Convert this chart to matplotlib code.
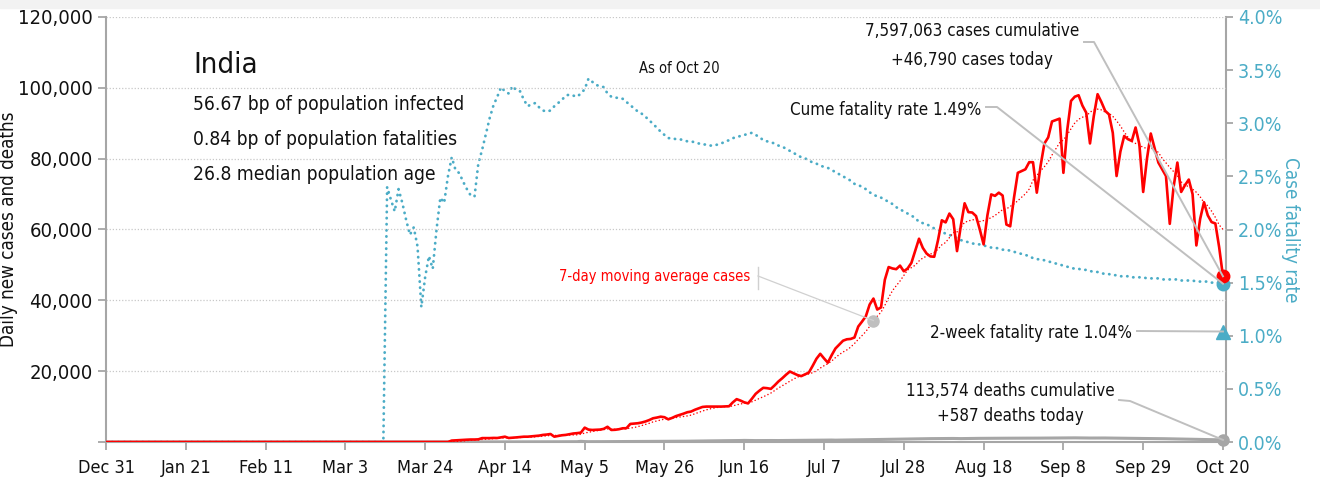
import matplotlib
matplotlib.use("Agg")
import matplotlib.pyplot as plt
import matplotlib.dates as mdates
from matplotlib import font_manager
from matplotlib.lines import Line2D
from matplotlib.patches import Rectangle
import pandas as pd

# ---- data (India, as of Oct 20) ----
start = pd.Timestamp("2019-12-31")
end = pd.Timestamp("2020-10-20")

# daily new cases, Mar 31 .. Oct 20 (nothing visible before Mar 31)
cases_from_mar31 = [
    400, 470, 550, 600, 650, 700, 700, 750, 1100, 1100,
    1100, 1150, 1130, 1300, 1500, 1130, 1200, 1300, 1400, 1500,
    1500, 1600, 1700, 1800, 2000, 2100, 2260, 1500, 1700, 1900,
    2000, 2200, 2400, 2500, 2650, 4050, 3500, 3400, 3450, 3500,
    3700, 4300, 3400, 3450, 3600, 3870, 3900, 5100, 5200, 5300,
    5500, 5800, 6200, 6700, 6900, 7150, 7000, 6400, 6800, 7300,
    7650, 8000, 8400, 8600, 9100, 9500, 9900, 10000, 10000, 10000,
    10000, 10000, 10050, 10100, 11200, 12100, 11700, 11200, 10900, 12200,
    13600, 14500, 15300, 15200, 15000, 16000, 17100, 18000, 19000, 19900,
    19400, 18900, 18600, 19100, 19600, 21500, 23500, 24900, 23600, 22400,
    24500, 26400, 27500, 28600, 29000, 29100, 29500, 32600, 34000, 35500,
    38800, 40500, 37400, 38000, 45800, 49400, 49000, 48800, 49800, 48200,
    49000, 50600, 54000, 57400, 54800, 53200, 52400, 52300, 57000, 62600,
    62000, 64500, 62900, 53900, 61000, 67400, 64900, 64800, 63800, 60000,
    55800, 64000, 69900, 69500, 70400, 69600, 61400, 60900, 69000, 76000,
    76500, 77000, 79000, 79000, 70400, 78000, 84300, 86000, 90500, 90900,
    91300, 76000, 88000, 96300, 97500, 97900, 95000, 93000, 84300, 92000,
    98200, 96000, 93500, 92500, 87300, 75100, 82000, 86400, 85500, 85000,
    88800, 84000, 70600, 80000, 87100, 83000, 78900, 77000, 75100, 61600,
    72000, 78900, 70600, 72500, 74100, 70000, 55500, 63000, 67700, 64000,
    62100, 61700, 55000, 46790,
]

# daily deaths, Mar 31 .. Oct 20
deaths_from_mar31 = [
    5, 10, 15, 20, 25, 30, 30, 35, 40, 35, 30, 40, 40, 35, 35, 40, 45, 40, 45, 50,
    50, 45, 50, 55, 50, 55, 60, 60, 65, 70,
    70, 75, 80, 85, 195, 120, 90, 100, 110, 95, 100, 105, 120, 100, 110, 130, 120,
    135, 140, 145, 150, 140, 145, 150, 155, 160, 170, 165, 180, 190, 200,
    220, 230, 250, 270, 290, 300, 310, 320, 330, 340, 350, 360, 370, 390, 400,
    420, 450, 430, 410, 400, 410, 420, 440, 420, 400, 410, 420, 430, 440, 450,
    460, 470, 480, 500, 510, 520, 530, 540, 560, 550, 520, 540, 560, 580, 600,
    610, 620, 640, 650, 660, 680, 700, 720, 740, 760, 780, 800, 820, 840, 860, 880,
    890, 900, 920, 940, 950, 960, 970, 980, 990, 1000, 1000, 980, 960, 980, 1000,
    1010, 1020, 1030, 1040, 1050, 1050, 1040, 1050, 1060, 1070, 1070, 1080, 1060,
    1060, 1070, 1080,
    1090, 1100, 1100, 1110, 1120, 1130, 1150, 1170, 1180, 1200, 1190, 1170, 1150,
    1140, 1130, 1120, 1130, 1140, 1150, 1130, 1110, 1100, 1080, 1070, 1060, 1050,
    1040, 1020, 1010, 1000,
    990, 980, 970, 960, 940, 920, 900, 880, 860, 840, 820, 800, 780, 760, 740, 720,
    700, 680, 660, 620, 587,
]

# cumulative case fatality rate (%), Mar 14 .. Oct 20
cfr_from_mar14 = [
    2.40, 2.28, 2.17, 2.38, 2.25, 2.09, 1.95, 2.02, 1.84, 1.27,
    1.55, 1.75, 1.63, 2.00, 2.30, 2.25, 2.50, 2.68, 2.56, 2.53,
    2.45, 2.38, 2.32, 2.31, 2.62, 2.75, 2.90, 3.05, 3.17, 3.25,
    3.34, 3.30, 3.28, 3.35, 3.31, 3.30, 3.22, 3.16, 3.18, 3.19,
    3.15, 3.12, 3.11, 3.12, 3.16, 3.19, 3.22, 3.26, 3.27, 3.26,
    3.25, 3.28, 3.32, 3.42, 3.39, 3.36, 3.35, 3.34, 3.28, 3.25,
    3.24, 3.24, 3.23, 3.20, 3.17, 3.14, 3.11, 3.09, 3.06, 3.03,
    2.99, 2.96, 2.92, 2.89, 2.86, 2.86, 2.85, 2.85, 2.84, 2.83,
    2.83, 2.82, 2.81, 2.80, 2.80, 2.79, 2.79, 2.80, 2.81, 2.83,
    2.84, 2.86, 2.87, 2.88, 2.89, 2.90, 2.91, 2.89, 2.87, 2.84,
    2.83, 2.82, 2.81, 2.79, 2.78, 2.76, 2.74, 2.72, 2.70, 2.68,
    2.67, 2.65, 2.63, 2.62, 2.60, 2.59, 2.58, 2.56, 2.54, 2.52,
    2.50, 2.48, 2.46, 2.43, 2.42, 2.40, 2.38, 2.35, 2.33, 2.31,
    2.30, 2.28, 2.26, 2.24, 2.21, 2.19, 2.17, 2.15, 2.13, 2.11,
    2.07, 2.06, 2.05, 2.03, 2.01, 2.00, 1.98, 1.96, 1.95, 1.93,
    1.92, 1.90, 1.89, 1.88, 1.87, 1.86, 1.86, 1.85, 1.84, 1.83,
    1.83, 1.82, 1.81, 1.81, 1.80, 1.79, 1.78, 1.77, 1.76, 1.75,
    1.73, 1.72, 1.72, 1.71, 1.70, 1.69, 1.68, 1.67, 1.66, 1.65,
    1.64, 1.63, 1.63, 1.62, 1.62, 1.61, 1.60, 1.60, 1.59, 1.58,
    1.58, 1.57, 1.57, 1.56, 1.56, 1.56, 1.55, 1.55, 1.55, 1.55,
    1.54, 1.54, 1.54, 1.54, 1.53, 1.53, 1.53, 1.53, 1.53, 1.52,
    1.52, 1.52, 1.52, 1.51, 1.51, 1.51, 1.51, 1.50, 1.50, 1.50, 1.49,
]

two_week_cfr = 1.04
ma_note_date = pd.Timestamp("2020-07-20")

stats_lines = ["56.67 bp of population infected",
               "0.84 bp of population fatalities",
               "26.8 median population age"]

# ---- series on a daily index ----
all_days = pd.date_range(start, end, freq="D")
cases = pd.Series(0.0, index=all_days)
cases[pd.date_range("2020-03-31", periods=len(cases_from_mar31))] = cases_from_mar31
deaths = pd.Series(0.0, index=all_days)
deaths[pd.date_range("2020-03-31", periods=len(deaths_from_mar31))] = deaths_from_mar31
cfr = pd.Series(0.0, index=all_days)
cfr[pd.date_range("2020-03-14", periods=len(cfr_from_mar14))] = cfr_from_mar14
cases_ma = cases.rolling(7, min_periods=1).mean()

# ---- fonts ----
names = {f.name for f in font_manager.fontManager.ttflist}
if "Liberation Sans Narrow" in names:
    plt.rcParams["font.family"] = ["Liberation Sans Narrow", "DejaVu Sans"]
else:
    plt.rcParams["font.family"] = ["DejaVu Sans"]
    plt.rcParams["font.stretch"] = "condensed"

RED = "#FF0000"
TEAL = "#4BACC6"
GRAY = "#A6A6A6"
LEAD = "#BFBFBF"
TXT = "#111111"
W, H = 1320, 482
NOTE = 12.2

fig = plt.figure(figsize=(W / 100, H / 100), dpi=100)
fig.patches.append(Rectangle((0, 1 - 8 / H), 1, 8 / H, transform=fig.transFigure,
                             color="#F2F2F2", zorder=0))
ax = fig.add_axes([106 / W, 1 - 442 / H, 1120 / W, 425 / H])
ax2 = ax.twinx()

ax.plot(deaths.index, deaths.values, color=GRAY, lw=2.2, zorder=3)
ax.plot(cases.index, cases.values, color=RED, lw=1.9, zorder=4)
ax.plot(cases_ma.index, cases_ma.values, color=RED, lw=1.1,
        linestyle=(0, (0.1, 2.2)), dash_capstyle="round", zorder=4)
ax2.plot(cfr.index, cfr.values, color=TEAL, lw=2.0,
         linestyle=(0, (0.1, 2.1)), dash_capstyle="round", zorder=3)

# end-point markers
ax.plot([cases.index[-1]], [cases.values[-1]], "o", color=RED, ms=9, zorder=6, clip_on=False)
ax.plot([deaths.index[-1]], [deaths.values[-1]], "o", color=GRAY, ms=8, zorder=6, clip_on=False)
ax2.plot([cfr.index[-1]], [cfr.values[-1]], "o", color=TEAL, ms=9, zorder=6, clip_on=False)
ax2.plot([cfr.index[-1]], [two_week_cfr], "^", color=TEAL, ms=10, zorder=6, clip_on=False)
ma_val = cases_ma[ma_note_date]
ax.plot([ma_note_date], [ma_val], "o", color="#BFBFBF", ms=8, zorder=6)

# axes
ax.set_xlim(start, start + pd.Timedelta(days=294.8))
ax.set_ylim(0, 120000)
ax2.set_ylim(0, 4.0)
ax.set_zorder(ax2.get_zorder() + 1)
ax.patch.set_visible(False)

xticks = pd.date_range(start, end, freq="21D")
ax.set_xticks(xticks)
ax.set_xticklabels([d.strftime("%b ") + str(d.day) for d in xticks], fontsize=13)
yticks = list(range(0, 120001, 20000))
ax.set_yticks(yticks)
ax.set_yticklabels(["" if v == 0 else f"{v:,}" for v in yticks], fontsize=14.5)
ax2.set_yticks([i * 0.5 for i in range(9)])
ax2.set_yticklabels([f"{i * 0.5:.1f}%" for i in range(9)], fontsize=14, color=TEAL)

ax.grid(axis="y", color="#C8C8C8", linestyle=(0, (1, 1.5)), lw=0.9)
for a in (ax, ax2):
    a.spines["top"].set_visible(False)
    for s in ("left", "right", "bottom"):
        a.spines[s].set_color(GRAY)
        a.spines[s].set_linewidth(1.5)
ax.spines["right"].set_visible(False)
ax2.spines["left"].set_visible(False)
ax2.spines["bottom"].set_visible(False)
ax.tick_params(axis="both", colors=GRAY, labelcolor=TXT, length=6, width=1.3)
ax.tick_params(axis="x", pad=6)
ax2.tick_params(axis="y", colors=GRAY, labelcolor=TEAL, length=5, width=1.3)
ax.set_ylabel("Daily new cases and deaths", fontsize=13.5, color=TXT)
ax.yaxis.set_label_coords((18 - 106) / 1120, 0.5)
ax2.set_ylabel("Case fatality rate", fontsize=13.5, color=TEAL, rotation=270)
ax2.yaxis.set_label_coords((1300 - 106) / 1120, 0.5)


def fp(x, y):
    return x / W, 1 - y / H


# text block
fig.text(*fp(193, 73), "India", fontsize=21, va="baseline", color=TXT)
for i, line in enumerate(stats_lines):
    fig.text(*fp(193, 110 + 35 * i), line, fontsize=13.8, va="baseline", color=TXT)
fig.text(*fp(679, 73), "As of Oct " + str(end.day), fontsize=10.5, ha="center",
         va="baseline", color=TXT)

fig.text(*fp(972, 36), "7,597,063 cases cumulative", fontsize=NOTE, ha="center",
         va="baseline", color=TXT)
fig.text(*fp(972, 65), f"+{int(cases.values[-1]):,} cases today", fontsize=NOTE,
         ha="center", va="baseline", color=TXT)
fig.text(*fp(981, 115), f"Cume fatality rate {cfr.values[-1]:.2f}%", fontsize=NOTE,
         ha="right", va="baseline", color=TXT)
fig.text(*fp(1132, 338), f"2-week fatality rate {two_week_cfr:.2f}%", fontsize=NOTE,
         ha="right", va="baseline", color=TXT)
fig.text(*fp(1010, 396), "113,574 deaths cumulative", fontsize=NOTE, ha="center",
         va="baseline", color=TXT)
fig.text(*fp(1010, 421), f"+{int(deaths.values[-1])} deaths today", fontsize=NOTE,
         ha="center", va="baseline", color=TXT)
fig.text(*fp(750, 281), "7-day moving average cases", fontsize=10.5, color=RED,
         ha="right", va="baseline")

# leader lines
fig.canvas.draw()
inv = fig.transFigure.inverted()


def leader(pts_px, target, trans, lw=1.4, color=LEAD):
    xs = [fp(*p)[0] for p in pts_px]
    ys = [fp(*p)[1] for p in pts_px]
    if target is not None:
        tx, ty = inv.transform(trans.transform((mdates.date2num(target[0]), target[1])))
        xs.append(tx)
        ys.append(ty)
    fig.lines.append(Line2D(xs, ys, transform=fig.transFigure, color=color, lw=lw, zorder=5))


leader([(1084, 42), (1094, 42)], (cases.index[-1], cases.values[-1]), ax.transData)
leader([(986, 107), (997, 107)], (cfr.index[-1], cfr.values[-1]), ax2.transData)
leader([(1137, 331)], (cfr.index[-1], two_week_cfr), ax2.transData)
leader([(1119, 400), (1130, 401)], (deaths.index[-1], deaths.values[-1]), ax.transData)
leader([(758, 267), (758, 289)], None, None, lw=1.0, color="#D0D0D0")
leader([(758, 276)], (ma_note_date, ma_val), ax.transData, lw=0.9, color="#D0D0D0")

fig.savefig("out.png", dpi=100)
